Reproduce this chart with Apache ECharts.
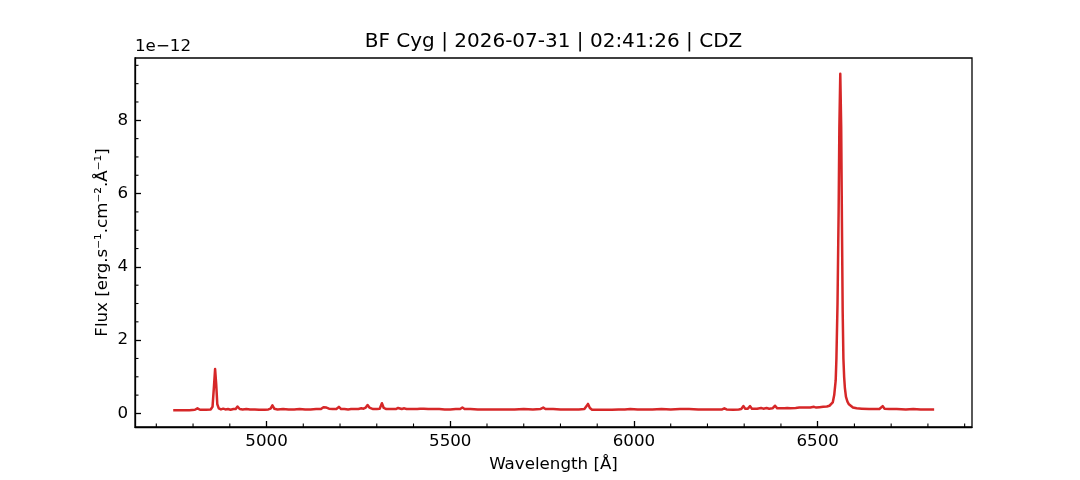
<!DOCTYPE html>
<html>
<head>
<meta charset="utf-8">
<script src="https://cdn.jsdelivr.net/npm/echarts@6/dist/echarts.min.js"></script>
<style>
html,body{margin:0;padding:0;background:#fff;}
#chart{width:1080px;height:480px;}
</style>
</head>
<body>
<div id="chart"></div>
<script>
// Wavelength [Å]
const wavelength = [
4746,4760,4775,4790,4805,4812,4819,4835,4848,4853,4857,4860,4863,4866,4870,4876,4882,4888,4895,4902,
4910,4916,4921,4927,4935,4945,4955,4968,4980,4995,5005,5011,5016,5021,5030,5045,5060,5075,5090,5105,
5120,5135,5148,5155,5159,5163,5170,5180,5190,5197,5203,5212,5222,5230,5235,5240,5250,5258,5264,5270,
5275,5280,5290,5300,5308,5314,5319,5326,5340,5352,5358,5363,5368,5375,5381,5395,5410,5418,5428,5440,
5455,5470,5485,5500,5515,5527,5533,5539,5555,5575,5600,5625,5650,5675,5700,5725,5745,5753,5759,5780,
5800,5830,5850,5865,5870,5875,5880,5886,5900,5920,5940,5958,5975,5990,6010,6030,6050,6075,6100,6125,
6150,6175,6200,6225,6240,6246,6252,6270,6285,6292,6298,6303,6310,6316,6321,6335,6346,6352,6361,6368,
6377,6384,6390,6400,6410,6417,6425,6440,6450,6455,6460,6470,6480,6490,6496,6505,6515,6525,6532,6537,
6541,6545,6549,6551,6554,6557,6559,6561.5,6564,6566,6568,6570,6572,6574,6577,6581,6585,6590,6596,6606,
6620,6640,6655,6668,6672,6677,6682,6695,6715,6740,6760,6780,6800,6817
];
// Flux [1e-12 erg/s/cm2/Å]
const flux = [
0.09,0.09,0.085,0.09,0.10,0.14,0.10,0.10,0.11,0.18,0.75,1.21,0.80,0.25,0.14,0.11,0.13,0.11,0.12,0.10,
0.12,0.12,0.19,0.12,0.11,0.12,0.11,0.11,0.10,0.10,0.11,0.13,0.22,0.13,0.11,0.12,0.11,0.11,0.12,0.11,
0.11,0.12,0.12,0.17,0.20,0.16,0.13,0.12,0.12,0.18,0.12,0.12,0.11,0.12,0.17,0.12,0.12,0.14,0.13,0.16,
0.23,0.16,0.12,0.12,0.13,0.28,0.15,0.12,0.12,0.12,0.15,0.14,0.12,0.14,0.12,0.12,0.12,0.13,0.13,0.12,
0.12,0.12,0.11,0.11,0.12,0.12,0.16,0.12,0.12,0.11,0.11,0.11,0.11,0.11,0.12,0.11,0.12,0.16,0.12,0.12,
0.11,0.11,0.11,0.12,0.16,0.26,0.15,0.10,0.10,0.10,0.10,0.11,0.11,0.12,0.11,0.11,0.11,0.12,0.11,0.12,
0.12,0.11,0.11,0.11,0.11,0.14,0.11,0.10,0.11,0.12,0.20,0.13,0.13,0.20,0.13,0.13,0.15,0.13,0.15,0.13,
0.14,0.21,0.14,0.14,0.14,0.15,0.14,0.15,0.16,0.20,0.16,0.16,0.16,0.18,0.16,0.17,0.18,0.19,0.21,0.22,
0.30,0.50,0.90,1.5,3.0,5.5,7.8,9.27,7.8,5.2,2.8,1.5,1.0,0.7,0.45,0.32,0.25,0.20,0.16,0.14,
0.13,0.12,0.12,0.12,0.14,0.20,0.13,0.12,0.12,0.11,0.12,0.11,0.11,0.11
];
const xMajorTicks = [5000, 5500, 6000, 6500];
const xMinorTicks = [4700,4800,4900,5100,5200,5300,5400,5600,5700,5800,5900,6100,6200,6300,6400,6600,6700,6800,6900];
const yMajorTicks = [0, 2, 4, 6, 8];
const yMinorTicks = [0.5,1,1.5,2.5,3,3.5,4.5,5,5.5,6.5,7,7.5,8.5,9,9.5];

const FONT = '"DejaVu Sans", sans-serif';
const X_MIN = 4642, X_MAX = 6920, Y_MIN = -0.37, Y_MAX = 9.70;

const seriesData = wavelength.map((w, i) => [w, flux[i]]);
const plain = v => String(v);
const MINOR_LEN = 3.5;

function minorXTick(params, api) {
  const p = api.coord([api.value(0), Y_MIN]);
  return {type: 'line', shape: {x1: p[0], y1: p[1], x2: p[0], y2: p[1] - MINOR_LEN}, style: {stroke: '#000', lineWidth: 1.1}};
}
function minorYTick(params, api) {
  const p = api.coord([X_MIN, api.value(1)]);
  return {type: 'line', shape: {x1: p[0], y1: p[1], x2: p[0] + MINOR_LEN, y2: p[1]}, style: {stroke: '#000', lineWidth: 1.1}};
}

const chart = echarts.init(document.getElementById('chart'), null, {renderer: 'canvas'});
chart.setOption({
  animation: false,
  backgroundColor: '#ffffff',
  grid: {left: 135, right: 108, top: 58, bottom: 53, show: true, borderColor: '#000', borderWidth: 1.3, backgroundColor: 'transparent'},
  graphic: [
    {type: 'text', x: 553.5, y: 42, style: {text: 'BF Cyg | 2026-07-31 | 02:41:26 | CDZ', font: '20px ' + FONT, fill: '#000', align: 'center', verticalAlign: 'middle'}},
    {type: 'text', x: 135, y: 47, style: {text: '1e\u221212', font: '16.7px ' + FONT, fill: '#000', align: 'left', verticalAlign: 'middle'}}
  ],
  xAxis: {
    type: 'value', min: X_MIN, max: X_MAX, position: 'bottom',
    name: 'Wavelength [Å]', nameLocation: 'middle', nameGap: 29, nameMoveOverlap: false,
    nameTextStyle: {fontFamily: FONT, fontSize: 16.7, color: '#000'},
    axisLine: {show: true, onZero: false, lineStyle: {color: '#000', width: 1.3}},
    axisTick: {show: true, inside: true, length: 6, lineStyle: {color: '#000', width: 1.3}, customValues: xMajorTicks},
    axisLabel: {show: true, margin: 6, fontFamily: FONT, fontSize: 16.7, color: '#000', customValues: xMajorTicks, formatter: plain},
    splitLine: {show: false}
  },
  yAxis: {
    type: 'value', min: Y_MIN, max: Y_MAX, position: 'left',
    name: 'Flux [erg.s\u207B\u00B9.cm\u207B\u00B2.Å\u207B\u00B9]', nameLocation: 'middle', nameGap: 24, nameRotate: 90, nameMoveOverlap: false,
    nameTextStyle: {fontFamily: FONT, fontSize: 16.7, color: '#000'},
    axisLine: {show: true, onZero: false, lineStyle: {color: '#000', width: 1.3}},
    axisTick: {show: true, inside: true, length: 6, lineStyle: {color: '#000', width: 1.3}, customValues: yMajorTicks},
    axisLabel: {show: true, margin: 7, fontFamily: FONT, fontSize: 16.7, color: '#000', customValues: yMajorTicks, formatter: plain},
    splitLine: {show: false}
  },
  series: [
    {
      type: 'line',
      data: seriesData, showSymbol: false, symbol: 'none',
      lineStyle: {color: '#d62728', width: 2.5, join: 'round'},
      itemStyle: {color: '#d62728'},
      silent: true, z: 3
    },
    {
      type: 'custom', renderItem: minorXTick, clip: false, silent: true, z: 4,
      data: xMinorTicks.map(v => [v, Y_MIN])
    },
    {
      type: 'custom', renderItem: minorYTick, clip: false, silent: true, z: 4,
      data: yMinorTicks.map(v => [X_MIN, v])
    }
  ]
});
</script>
</body>
</html>
